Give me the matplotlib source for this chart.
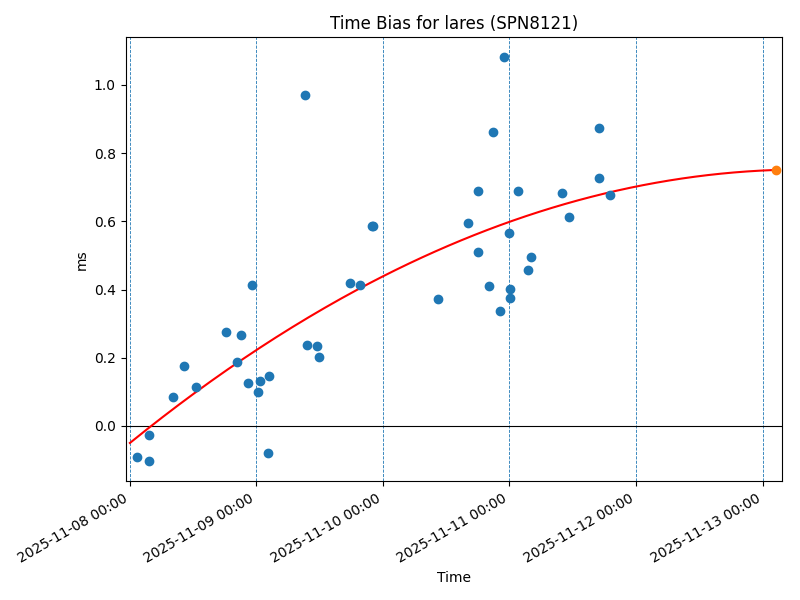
import numpy as np
import pandas as pd
import matplotlib
matplotlib.use("Agg")
from matplotlib import pyplot as plt
import matplotlib.dates as mdates

# Measured time bias (ms) for lares
times = pd.to_datetime([
    "2025-11-08 01:23", "2025-11-08 03:33", "2025-11-08 03:33", "2025-11-08 08:12",
    "2025-11-08 10:18", "2025-11-08 12:34", "2025-11-08 18:16", "2025-11-08 20:21",
    "2025-11-08 21:07", "2025-11-08 23:05", "2025-11-08 22:26", "2025-11-09 00:20",
    "2025-11-09 00:36", "2025-11-09 02:25", "2025-11-09 02:14", "2025-11-09 09:16",
    "2025-11-09 09:39", "2025-11-09 11:33", "2025-11-09 11:48", "2025-11-09 17:48",
    "2025-11-09 19:42", "2025-11-09 21:58", "2025-11-09 22:08", "2025-11-10 10:29",
    "2025-11-10 16:10", "2025-11-10 18:04", "2025-11-10 18:04", "2025-11-10 20:07",
    "2025-11-10 20:53", "2025-11-10 22:15", "2025-11-10 23:01", "2025-11-10 23:57",
    "2025-11-11 00:06", "2025-11-11 00:06", "2025-11-11 01:41", "2025-11-11 04:05",
    "2025-11-11 03:30", "2025-11-11 10:00", "2025-11-11 11:21", "2025-11-11 17:02",
    "2025-11-11 17:02", "2025-11-11 19:08",
])
bias_ms = [
    -0.091, -0.103, -0.026, 0.085,
    0.177, 0.115, 0.274, 0.188,
    0.267, 0.414, 0.127, 0.098,
    0.133, 0.145, -0.079, 0.971,
    0.236, 0.233, 0.203, 0.420,
    0.414, 0.585, 0.585, 0.371,
    0.594, 0.688, 0.509, 0.409,
    0.861, 0.338, 1.081, 0.567,
    0.403, 0.376, 0.688, 0.494,
    0.456, 0.682, 0.614, 0.873,
    0.726, 0.677,
]

# Predicted value at end of the fit
pred_time = pd.Timestamp("2025-11-13 02:34")
pred_ms = 0.752

# Fit curve read at a few times (days after 2025-11-08 00:00)
fit_days = [0.0, 1.0, 2.0, 3.0, 4.0, 5.0, 5.107]
fit_ms = [-0.050, 0.222, 0.440, 0.598, 0.702, 0.748, 0.752]

start = pd.Timestamp("2025-11-08 00:00")
day_lines = pd.date_range("2025-11-08", "2025-11-13", freq="D")

coef = np.polyfit(fit_days, fit_ms, 2)
t = np.linspace(0, fit_days[-1], 200)
curve_times = start + pd.to_timedelta(t, unit="D")

fig, ax = plt.subplots(figsize=(8, 6), dpi=100)
for d in day_lines:
    ax.axvline(d, color="C0", linestyle="--", linewidth=0.6)
ax.axhline(0, color="black", linewidth=0.8)
ax.scatter(times, bias_ms, color="C0", zorder=3)
ax.plot(curve_times, np.polyval(coef, t), color="red", linewidth=1.5)
ax.scatter([pred_time], [pred_ms], color="C1", zorder=4)

ax.set_xlim(pd.Timestamp("2025-11-07 23:11"), pd.Timestamp("2025-11-13 03:46"))
ax.xaxis.set_major_locator(mdates.DayLocator())
ax.xaxis.set_major_formatter(mdates.DateFormatter("%Y-%m-%d %H:%M"))
ax.set_title("Time Bias for lares (SPN8121)")
ax.set_xlabel("Time")
ax.set_ylabel("ms")
fig.autofmt_xdate()
plt.subplots_adjust(left=0.157, right=0.978, top=0.938, bottom=0.198)

plt.savefig("out.png")
plt.close()
